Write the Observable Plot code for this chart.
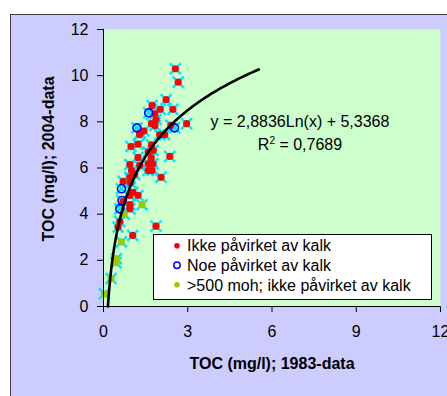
<!DOCTYPE html>
<html><head><meta charset="utf-8">
<script src="https://cdn.jsdelivr.net/npm/d3@7"></script>
<script src="https://cdn.jsdelivr.net/npm/@observablehq/plot@0.6"></script>
<style>
body{margin:0;background:#fff;}
#chart{position:relative;width:447px;height:396px;overflow:hidden;}
</style></head><body><div id="chart"></div>
<script>
// Series
const redX = [2.56,2.66,2.23,1.73,2.02,2.47,1.83,1.87,1.71,1.83,2.96,1.44,1.32,1.28,2.00,2.18,2.40,0.98,1.23,1.71,1.77,1.59,2.36,1.23,1.70,0.94,1.59,1.76,1.29,1.00,1.59,1.73,1.11,0.94,2.05,0.70,0.96,0.96,0.94,1.23,1.05,0.70,0.94,0.94,0.58,0.52,1.87,1.04];
const redY = [10.30,9.72,8.96,8.71,8.54,8.54,8.35,8.10,7.92,7.84,7.92,7.60,7.52,7.45,7.44,7.44,7.85,6.93,7.03,7.00,6.76,6.69,6.50,6.46,6.44,6.15,6.18,6.18,6.11,5.89,5.89,5.89,5.72,5.60,5.60,5.42,5.53,5.36,4.81,4.81,4.95,4.55,4.41,4.23,3.68,3.44,3.48,3.08];
const blueX = [1.61,1.19,2.53,0.64,0.66,0.58];
const blueY = [8.39,7.74,7.74,5.10,4.59,4.23];
const greenX = [1.37,0.74,0.64,0.46,0.44,0.27,0.03];
const greenY = [4.41,4.00,2.80,2.07,1.90,1.21,0.55];

// Trendline (logarithmic) from the printed equation
const trendA = 2.8836, trendB = 5.3368, trendR2 = 0.7689;
const trendXMax = 5.53;

const xTicks = [0,3,6,9,12];
const yTicks = [0,2,4,6,8,10,12];
const xLabel = "TOC (mg/l); 1983-data";
const yLabel = "TOC (mg/l); 2004-data";
const legendLabels = ["Ikke påvirket av kalk","Noe påvirket av kalk",">500 moh; ikke påvirket av kalk"];
const colors = {red:"#ff0000", blue:"#0000ff", green:"#99cc00", cross:"#00e5ff", plotBg:"#ccffcc", outerBg:"#ccccff"};

const toPts = (xs, ys) => xs.map((x,i)=>({x, y: ys[i]}));
const red = toPts(redX, redY), blue = toPts(blueX, blueY), green = toPts(greenX, greenY);
const all = red.concat(blue, green);

const x0 = Math.exp(-trendB/trendA);
const trend = d3.range(0, 301).map(i => {
  const x = x0 * Math.pow(trendXMax/x0, i/300);
  return {x, y: trendA*Math.log(x) + trendB};
});

const font = "'Liberation Sans', Arial, sans-serif";
const svg = Plot.plot({
  width: 447, height: 396,
  marginTop: 29, marginRight: 7, marginBottom: 90, marginLeft: 103,
  style: {background: "transparent", fontFamily: font, fontSize: "16px", color: "#000", overflow: "visible"},
  x: {domain: [0,12], ticks: xTicks, tickSize: 6, tickPadding: 13, label: xLabel, labelAnchor: "center", labelOffset: 62, labelArrow: "none"},
  y: {domain: [0,12], ticks: yTicks, tickSize: 6, tickPadding: 9, label: yLabel, labelAnchor: "center", labelOffset: 61, labelArrow: "none"},
  marks: [
    Plot.frame({fill: colors.plotBg}),
    Plot.dot(all, {x: "x", y: "y", symbol: "times", r: 5, stroke: colors.cross, strokeWidth: 2.4}),
    Plot.dot(red, {x: "x", y: "y", r: 3.6, fill: colors.red}),
    Plot.dot(green, {x: "x", y: "y", r: 3.6, fill: colors.green}),
    Plot.dot(blue, {x: "x", y: "y", r: 4, fill: "none", stroke: colors.blue, strokeWidth: 1.6}),
    Plot.line(trend, {x: "x", y: "y", stroke: "#000", strokeWidth: 2.6}),
    Plot.ruleX([0], {stroke: "#000"}),
    Plot.ruleY([0], {stroke: "#000"})
  ]
});

const s = d3.select(svg);
s.selectAll('[aria-label="x-axis label"], [aria-label="y-axis label"]').attr("font-weight", "bold");
s.selectAll('[aria-label="y-axis label"]').each(function() {
  const t = this.getAttribute("transform") || "";
  this.setAttribute("transform", "translate(0,-9) " + t);
});
s.insert("rect", ":first-child")
  .attr("x", 10.5).attr("y", 14.5).attr("width", 460).attr("height", 400)
  .attr("fill", colors.outerBg).attr("stroke", "#404040").attr("stroke-width", 1);

// Legend
const lg = s.append("g").attr("font-family", font).attr("font-size", 16).attr("text-anchor", "start");
lg.append("rect").attr("x", 153.5).attr("y", 234.5).attr("width", 278).attr("height", 65)
  .attr("fill", "#fff").attr("stroke", "#000");
const rows = [245.7, 265.2, 284.8];
lg.append("circle").attr("cx", 177).attr("cy", rows[0]).attr("r", 2.8).attr("fill", colors.red);
lg.append("circle").attr("cx", 177).attr("cy", rows[1]).attr("r", 3.2).attr("fill", "none").attr("stroke", colors.blue).attr("stroke-width", 1.5);
lg.append("circle").attr("cx", 177).attr("cy", rows[2]).attr("r", 2.8).attr("fill", colors.green);
legendLabels.forEach((t,i) => lg.append("text").attr("x", 187).attr("y", rows[i]).attr("dy", "0.36em").text(t));

// Equation
const fmt = v => v.toFixed(4).replace(".", ",");
const eq = s.append("g").attr("font-family", font).attr("font-size", 16).attr("text-anchor", "middle");
eq.append("text").attr("x", 300).attr("y", 126.7).text(`y = ${fmt(trendA)}Ln(x) + ${fmt(trendB)}`);
const r2 = eq.append("text").attr("x", 300).attr("y", 150);
r2.append("tspan").text("R");
r2.append("tspan").attr("font-size", 10).attr("dy", -6).text("2");
r2.append("tspan").attr("dy", 6).text(` = ${fmt(trendR2)}`);

document.getElementById("chart").appendChild(svg);
</script></body></html>
